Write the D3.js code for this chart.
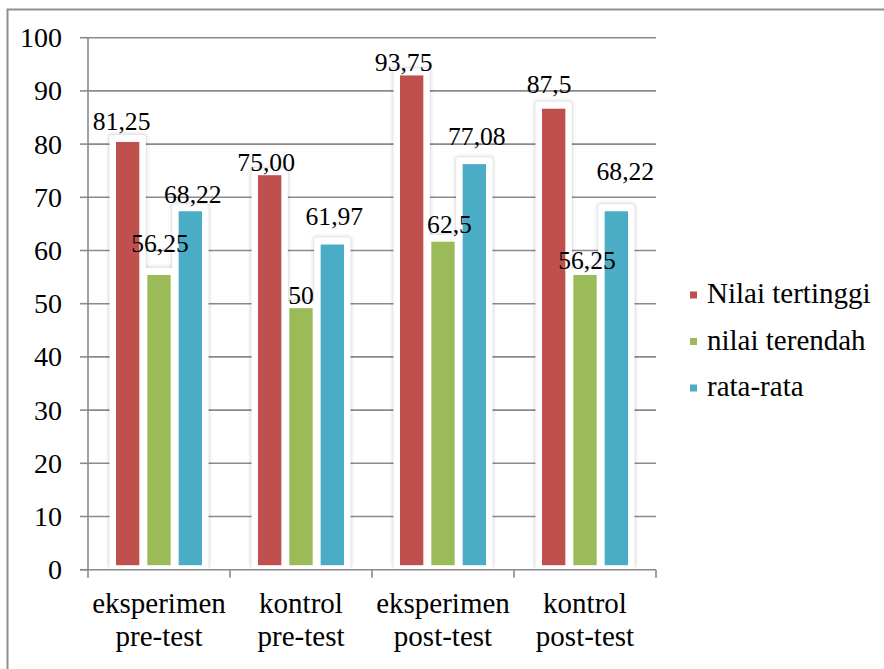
<!DOCTYPE html>
<html><head><meta charset="utf-8">
<script src="https://cdn.jsdelivr.net/npm/d3@7"></script>
</head>
<body style="margin:0">
<svg id="chart" width="884" height="669"></svg>
<script>
// ---- data ----
const categories = ["eksperimen\npre-test", "kontrol\npre-test", "eksperimen\npost-test", "kontrol\npost-test"];
const seriesNames = ["Nilai tertinggi", "nilai terendah", "rata-rata"];
const nilaiTertinggi = [81.25, 75.00, 93.75, 87.5];
const nilaiTerendah = [56.25, 50, 62.5, 56.25];
const rataRata = [68.22, 61.97, 77.08, 68.22];
const labelTexts = [
  ["81,25", "75,00", "93,75", "87,5"],
  ["56,25", "50", "62,5", "56,25"],
  ["68,22", "61,97", "77,08", "68,22"]
];
const yTicks = [0, 10, 20, 30, 40, 50, 60, 70, 80, 90, 100];

// ---- style / layout ----
const FONT = '"Liberation Serif"';
const colors = ["#C0504D", "#9BBB59", "#4BACC6"];
// manual nudges of the text-box labels [dx, lift above bar top]
const labelNudge = [
  [[-6, 7.5], [-3.5, 0], [-8, 0], [-4.5, 11]],
  [[1, 18], [0, 0], [6.5, 4.5], [2, 1]],
  [[2.5, 4], [2, 15], [2.5, 15], [9, 27]]
];

const series = [nilaiTertinggi, nilaiTerendah, rataRata];
const svg = d3.select("#chart");

const plotLeft = 88, plotRight = 656, plotTop = 37.7, plotBottom = 569.7;

// background + border
svg.append("rect").attr("x", 0).attr("y", 0).attr("width", 884).attr("height", 669).attr("fill", "#fff");
svg.append("rect").attr("x", 7.5).attr("y", 9.5).attr("width", 900).attr("height", 700)
  .attr("fill", "none").attr("stroke", "#8f8f8f").attr("stroke-width", 2);

const y = d3.scaleLinear().domain([0, 100]).range([plotBottom, plotTop]);
const x0 = d3.scaleBand().domain(categories).range([plotLeft, plotRight]).padding(0);
const x1 = d3.scaleBand().domain(seriesNames).range([0, x0.bandwidth()]).paddingInner(0).paddingOuter(0.766);

// gridlines
svg.append("g").selectAll("line").data(yTicks.filter(d => d > 0)).join("line")
  .attr("x1", plotLeft).attr("x2", plotRight)
  .attr("y1", d => y(d)).attr("y2", d => y(d))
  .attr("stroke", "#8a8a8a").attr("stroke-width", 1.6);

// flat records
const recs = [];
series.forEach((vals, si) => vals.forEach((v, ci) => recs.push({si, ci, v, cat: categories[ci], name: seriesNames[si]})));

// soft shadow layers around the white halos
[[4, 0.02], [2.5, 0.03], [1.2, 0.045]].forEach(([grow, op]) => {
  svg.append("g").selectAll("rect").data(recs).join("rect")
    .attr("x", d => x0(d.cat) + x1(d.name) - 2.5 - grow)
    .attr("y", d => y(d.v) - 2.5 - grow)
    .attr("width", x1.bandwidth() + 5 + 2 * grow)
    .attr("height", d => plotBottom - y(d.v) + 2.5 + grow)
    .attr("rx", 3 + grow)
    .attr("fill", "#000").attr("fill-opacity", op);
});
// white halos
svg.append("g").selectAll("rect").data(recs).join("rect")
  .attr("x", d => x0(d.cat) + x1(d.name) - 2.5)
  .attr("y", d => y(d.v) - 2.5)
  .attr("width", x1.bandwidth() + 5)
  .attr("height", d => plotBottom - y(d.v) + 2.5)
  .attr("rx", 3)
  .attr("fill", "#fff");

// bars
svg.append("g").selectAll("rect").data(recs).join("rect")
  .attr("x", d => x0(d.cat) + x1(d.name) + 4)
  .attr("y", d => y(d.v) + 4.5)
  .attr("width", x1.bandwidth() - 8)
  .attr("height", d => plotBottom - y(d.v) - 9)
  .attr("fill", d => colors[d.si]);

// y axis lines (ticks from the scale)
svg.append("path").attr("fill", "none").attr("stroke", "#8a8a8a").attr("stroke-width", 1.6)
  .attr("d", `M${plotLeft},${plotTop}V${plotBottom}`);
svg.append("g").selectAll("line").data(y.ticks(10)).join("line")
  .attr("x1", plotLeft - 8).attr("x2", plotLeft).attr("y1", d => y(d)).attr("y2", d => y(d))
  .attr("stroke", "#8a8a8a").attr("stroke-width", 1.6);

// x axis line + boundary ticks
svg.append("line").attr("x1", plotLeft - 8).attr("x2", plotRight).attr("y1", plotBottom).attr("y2", plotBottom)
  .attr("stroke", "#8a8a8a").attr("stroke-width", 1.6);
const bounds = categories.map(c => x0(c)).concat([x0(categories[categories.length - 1]) + x0.bandwidth()]);
svg.append("g").selectAll("line").data(bounds).join("line")
  .attr("x1", d => d).attr("x2", d => d).attr("y1", plotBottom).attr("y2", plotBottom + 8)
  .attr("stroke", "#8a8a8a").attr("stroke-width", 1.6);

// ---- texts (direct children of the svg) ----
yTicks.forEach(t => {
  svg.append("text").attr("x", plotLeft - 26).attr("y", y(t) + 9.5)
    .attr("text-anchor", "end").attr("font-size", 28).style("font-family", FONT)
    .text(d3.format("d")(t));
});

categories.forEach(c => {
  const cx = x0(c) + x0.bandwidth() / 2;
  const t = svg.append("text").attr("x", cx).attr("y", 613)
    .attr("text-anchor", "middle").attr("font-size", 29).style("font-family", FONT);
  c.split("\n").forEach((line, i) => {
    t.append("tspan").attr("x", cx).attr("dy", i === 0 ? 0 : 33).text(line);
  });
});

recs.forEach(d => {
  svg.append("text")
    .attr("x", x0(d.cat) + x1(d.name) + x1.bandwidth() / 2 + labelNudge[d.si][d.ci][0])
    .attr("y", y(d.v) - labelNudge[d.si][d.ci][1])
    .attr("text-anchor", "middle").attr("font-size", 25.6).style("font-family", FONT)
    .text(labelTexts[d.si][d.ci]);
});

seriesNames.forEach((name, i) => {
  const cy = 295 + i * 46.5;
  svg.append("rect").attr("x", 690).attr("y", cy - 3.5).attr("width", 7).attr("height", 7).attr("fill", colors[i]);
  svg.append("text").attr("x", 707).attr("y", cy + 8.3)
    .attr("font-size", 29).style("font-family", FONT).text(name);
});
</script>
</body></html>
